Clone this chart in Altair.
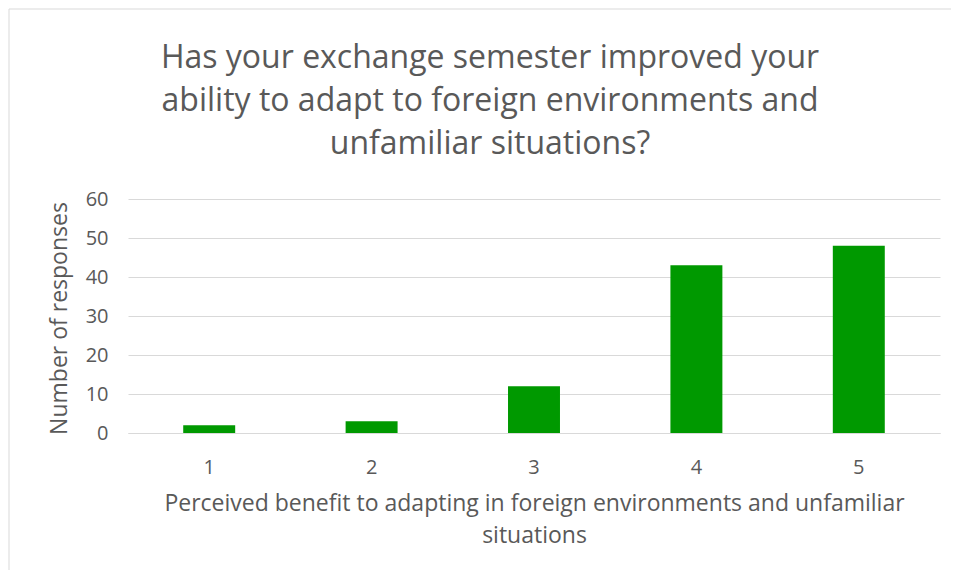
import altair as alt
import pandas as pd

categories = ["1", "2", "3", "4", "5"]
responses = [2, 3, 12, 43, 48]

title_lines = [
    "Has your exchange semester improved your",
    "ability to adapt to foreign environments and",
    "unfamiliar situations?",
]
x_title = ["Perceived benefit to adapting in foreign environments and unfamiliar", "situations"]
y_title = "Number of responses"

df = pd.DataFrame({"benefit": categories, "count": responses})

FONT = "Open Sans"
GREY = "#595959"

bars = alt.Chart(df).mark_bar(color="#009900").encode(
    x=alt.X(
        "benefit:N",
        sort=categories,
        scale=alt.Scale(paddingInner=0.68, paddingOuter=0.34),
        axis=alt.Axis(
            title=x_title,
            labelAngle=0,
            labelFontSize=20,
            labelColor=GREY,
            labelFont=FONT,
            labelPadding=24,
            ticks=False,
            domainColor="#d9d9d9",
            titleFontSize=23,
            titleFont=FONT,
            titleColor=GREY,
            titleFontWeight="normal",
            titlePadding=15,
            titleLineHeight=32,
        ),
    ),
    y=alt.Y(
        "count:Q",
        scale=alt.Scale(domain=[0, 60]),
        axis=alt.Axis(
            title=y_title,
            values=[0, 10, 20, 30, 40, 50, 60],
            labelFontSize=20,
            labelColor=GREY,
            labelFont=FONT,
            labelPadding=20,
            ticks=False,
            domain=False,
            gridColor="#d9d9d9",
            titleFontSize=23,
            titleFont=FONT,
            titleColor=GREY,
            titleFontWeight="normal",
            titleX=-69,
            titleY=119,
            titleAngle=-90,
            titleAlign="center",
            titleBaseline="middle",
        ),
    ),
)

frame = alt.Chart(pd.DataFrame({"k": [0]})).mark_rect(
    fill=None, stroke="#d9d9d9", strokeWidth=1
).encode(
    x=alt.value(-119), x2=alt.value(1000), y=alt.value(-190), y2=alt.value(500)
)

chart = alt.layer(frame, bars).properties(
    width=812,
    height=234,
    autosize=alt.AutoSizeParams(type="none"),
    padding={"left": 120, "top": 191, "right": 11, "bottom": 137},
    title=alt.TitleParams(
        text=title_lines,
        fontSize=32,
        font=FONT,
        color=GREY,
        fontWeight="normal",
        anchor="middle",
        frame="group",
        lineHeight=43,
        offset=44,
        dx=-44,
        dy=196,
    ),
).configure_view(stroke=None)

chart.save("out.html", embed_options={"renderer": "svg", "actions": False})
